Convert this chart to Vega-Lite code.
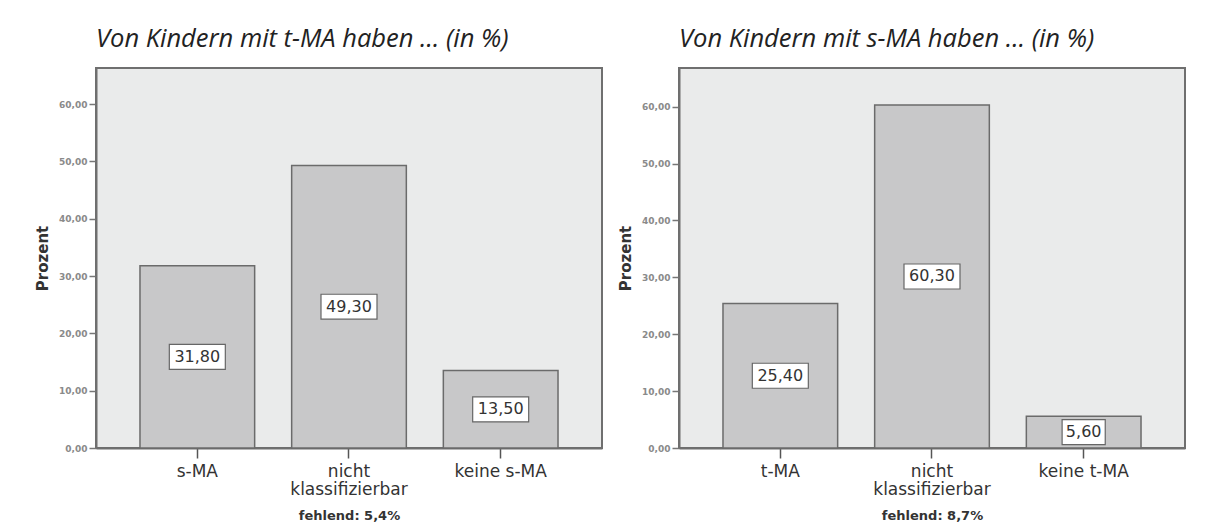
{
  "$schema": "https://vega.github.io/schema/vega-lite/v6.json",
  "background": "white",
  "padding": {"left": 34, "top": 25, "right": 10, "bottom": 5},
  "spacing": 14,
  "config": {
    "locale": {"number": {"decimal": ",", "thousands": ".", "grouping": [3], "currency": ["", " €"]}},
    "view": {"fill": "#eaebeb", "stroke": "#6f6f6f", "strokeWidth": 2},
    "axisX": {
      "grid": false, "labelAngle": 0, "labelFont": "DejaVu Sans", "labelFontSize": 17, "labelColor": "#333333",
      "labelLineHeight": 18, "labelPadding": 5, "tickSize": 10, "tickColor": "#555555", "tickWidth": 1.5,
      "domainColor": "#6f6f6f", "domainWidth": 2,
      "titleFont": "DejaVu Sans", "titleFontSize": 13, "titleFontWeight": "bold", "titleColor": "#333333", "titlePadding": 12,
      "labelExpr": "datum.label == 'nicht klassifizierbar' ? ['nicht', 'klassifizierbar'] : datum.label"
    },
    "axisY": {
      "grid": false, "labelFont": "DejaVu Sans", "labelFontSize": 9, "labelFontWeight": "bold", "labelColor": "#8a8a8a", "labelPadding": 2,
      "tickSize": 7, "tickColor": "#777777", "tickWidth": 1.5, "domainColor": "#6f6f6f", "domainWidth": 2,
      "titleFont": "DejaVu Sans", "titleFontSize": 15, "titleFontWeight": "bold", "titleColor": "#333333", "titlePadding": 8
    },
    "title": {"anchor": "start", "frame": "group", "font": "Open Sans", "fontStyle": "italic", "fontSize": 25.5, "fontWeight": 500, "color": "#222222", "offset": 16}
  },
  "datasets": {
    "tma": [
      {"kategorie": "s-MA", "prozent": 31.8},
      {"kategorie": "nicht klassifizierbar", "prozent": 49.3},
      {"kategorie": "keine s-MA", "prozent": 13.5}
    ],
    "sma": [
      {"kategorie": "t-MA", "prozent": 25.4},
      {"kategorie": "nicht klassifizierbar", "prozent": 60.3},
      {"kategorie": "keine t-MA", "prozent": 5.6}
    ]
  },
  "hconcat": [
    {
      "title": {"text": "Von Kindern mit t-MA haben … (in %)"},
      "width": 506, "height": 380,
      "data": {"name": "tma"},
      "encoding": {
        "x": {"field": "kategorie", "type": "nominal", "sort": null,
              "scale": {"paddingInner": 0.244, "paddingOuter": 0.29},
              "axis": {"title": "fehlend: 5,4%"}}
      },
      "layer": [
        {"mark": {"type": "bar", "fill": "#c8c8c9", "stroke": "#6b6b6b", "strokeWidth": 1.5},
         "encoding": {"y": {"field": "prozent", "type": "quantitative", "scale": {"domain": [0, 66.3], "nice": false},
                            "axis": {"title": "Prozent", "values": [0, 10, 20, 30, 40, 50, 60], "format": ".2f"}}}},
        {"mark": {"type": "point", "filled": true, "fill": "white", "stroke": "#666666", "strokeWidth": 1.2, "opacity": 1, "size": 3136},
         "encoding": {
           "y": {"field": "prozent", "type": "quantitative", "scale": {"domain": [0, 132.6], "nice": false}, "axis": null},
           "shape": {"condition": {"test": "datum.prozent < 10", "value": "M-0.77,-0.446L0.77,-0.446L0.77,0.446L-0.77,0.446Z"}, "value": "M-1,-0.446L1,-0.446L1,0.446L-1,0.446Z"}}},
        {"mark": {"type": "text", "font": "DejaVu Sans", "fontSize": 16, "color": "#333333", "baseline": "middle"},
         "encoding": {
           "y": {"field": "prozent", "type": "quantitative", "scale": {"domain": [0, 132.6], "nice": false}, "axis": null},
           "text": {"field": "prozent", "type": "quantitative", "format": ".2f"}}}
      ],
      "resolve": {"scale": {"y": "independent"}}
    },
    {
      "title": {"text": "Von Kindern mit s-MA haben … (in %)"},
      "width": 506, "height": 380,
      "data": {"name": "sma"},
      "encoding": {
        "x": {"field": "kategorie", "type": "nominal", "sort": null,
              "scale": {"paddingInner": 0.244, "paddingOuter": 0.29},
              "axis": {"title": "fehlend: 8,7%"}}
      },
      "layer": [
        {"mark": {"type": "bar", "fill": "#c8c8c9", "stroke": "#6b6b6b", "strokeWidth": 1.5},
         "encoding": {"y": {"field": "prozent", "type": "quantitative", "scale": {"domain": [0, 66.8], "nice": false},
                            "axis": {"title": "Prozent", "values": [0, 10, 20, 30, 40, 50, 60], "format": ".2f"}}}},
        {"mark": {"type": "point", "filled": true, "fill": "white", "stroke": "#666666", "strokeWidth": 1.2, "opacity": 1, "size": 3136},
         "encoding": {
           "y": {"field": "prozent", "type": "quantitative", "scale": {"domain": [0, 133.6], "nice": false}, "axis": null},
           "shape": {"condition": {"test": "datum.prozent < 10", "value": "M-0.77,-0.446L0.77,-0.446L0.77,0.446L-0.77,0.446Z"}, "value": "M-1,-0.446L1,-0.446L1,0.446L-1,0.446Z"}}},
        {"mark": {"type": "text", "font": "DejaVu Sans", "fontSize": 16, "color": "#333333", "baseline": "middle"},
         "encoding": {
           "y": {"field": "prozent", "type": "quantitative", "scale": {"domain": [0, 133.6], "nice": false}, "axis": null},
           "text": {"field": "prozent", "type": "quantitative", "format": ".2f"}}}
      ],
      "resolve": {"scale": {"y": "independent"}}
    }
  ]
}
